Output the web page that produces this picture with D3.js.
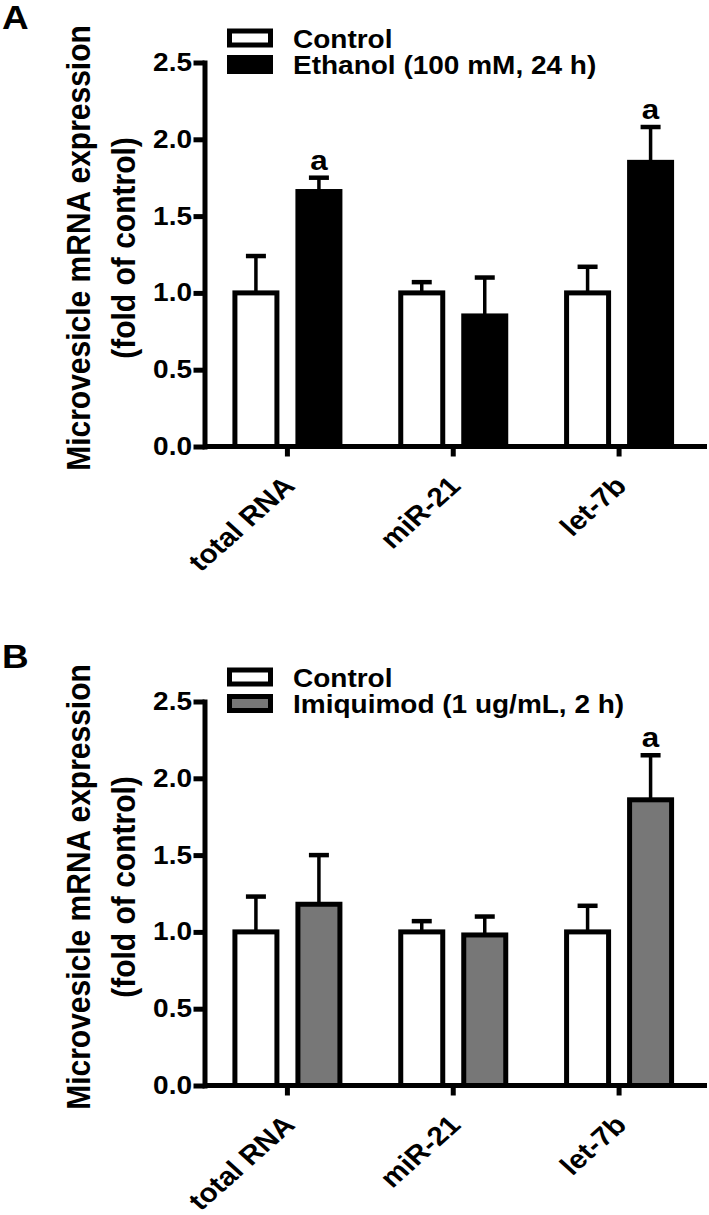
<!DOCTYPE html>
<html>
<head>
<meta charset="utf-8">
<script src="https://cdnjs.cloudflare.com/ajax/libs/d3/7.8.5/d3.min.js"></script>
<style>
  body { margin: 0; background: #fff; }
  text { font-family: "Liberation Sans", Arial, sans-serif; font-weight: bold; fill: #000; }
</style>
</head>
<body>
<script>
// data
var categories = ["total RNA", "miR-21", "let-7b"];
var yTicks = [0, 0.5, 1.0, 1.5, 2.0, 2.5];

var ctrlMeanA = [1.00, 1.00, 1.00];
var ctrlErrA  = [0.24, 0.07, 0.17];
var ethMean   = [1.66, 0.85, 1.85];
var ethErr    = [0.09, 0.25, 0.23];
var ethSig    = [true, false, true];

var ctrlMeanB = [1.00, 1.00, 1.00];
var ctrlErrB  = [0.23, 0.07, 0.17];
var imqMean   = [1.18, 0.98, 1.86];
var imqErr    = [0.32, 0.12, 0.29];
var imqSig    = [false, false, true];

var W = 709, H = 1215;
var S = 1.12; // the figure's type is a little wider than Arial

var svg = d3.select('body').append('svg')
  .attr('width', W)
  .attr('height', H);

function place(sel, x, y, rot) {
  sel.attr('transform', 'translate(' + x + ',' + y + ') scale(' + S + ',1)' + (rot ? ' rotate(' + rot + ')' : ''));
  return sel;
}

function drawPanel(p) {
  var g = svg.append('g').attr('transform', 'translate(0,' + p.top + ')');

  var y = d3.scaleLinear().domain([0, 2.5]).range([446.5, 62.5]);
  var x = d3.scaleBand().domain(categories).range([204.5, 702]);
  var xi = d3.scaleBand().domain(['ctrl', 'trt']).range([-55, 55]).paddingInner(0.254);

  var rows = [];
  categories.forEach(function (c, i) {
    rows.push({cat: c, s: 'ctrl', mean: p.ctrlMean[i], err: p.ctrlErr[i], fill: '#fff', sig: false});
    rows.push({cat: c, s: 'trt', mean: p.trtMean[i], err: p.trtErr[i], fill: p.trtFill, sig: p.trtSig[i]});
  });
  var cx = function (d) { return x(d.cat) + x.bandwidth() / 2 + xi(d.s) + xi.bandwidth() / 2; };

  // error bars (upper only)
  g.selectAll('line.err').data(rows).enter().append('line')
    .attr('class', 'err')
    .attr('x1', cx).attr('x2', cx)
    .attr('y1', function (d) { return y(d.mean); })
    .attr('y2', function (d) { return y(d.mean + d.err); })
    .attr('stroke', '#000').attr('stroke-width', 3.5);
  g.selectAll('line.cap').data(rows).enter().append('line')
    .attr('class', 'cap')
    .attr('x1', function (d) { return cx(d) - 10; })
    .attr('x2', function (d) { return cx(d) + 10; })
    .attr('y1', function (d) { return y(d.mean + d.err); })
    .attr('y2', function (d) { return y(d.mean + d.err); })
    .attr('stroke', '#000').attr('stroke-width', 4.5);

  // bars
  g.selectAll('rect.bar').data(rows).enter().append('rect')
    .attr('class', 'bar')
    .attr('x', function (d) { return cx(d) - xi.bandwidth() / 2 + 2.5; })
    .attr('width', xi.bandwidth() - 5)
    .attr('y', function (d) { return y(d.mean); })
    .attr('height', function (d) { return y(0) - y(d.mean); })
    .attr('fill', function (d) { return d.fill; })
    .attr('stroke', '#000')
    .attr('stroke-width', 5);

  // significance letters
  g.selectAll('text.sig').data(rows.filter(function (d) { return d.sig; })).enter().append('text')
    .attr('class', 'sig')
    .attr('text-anchor', 'middle')
    .style('font-size', '28px')
    .text('a')
    .each(function (d) { place(d3.select(this), cx(d), y(d.mean + d.err) - 8); });

  // y axis
  var ya = g.append('g')
    .attr('transform', 'translate(204.5,0)')
    .call(d3.axisLeft(y).tickValues(yTicks).tickFormat(d3.format('.1f')).tickSize(11).tickSizeOuter(0));
  ya.select('.domain').attr('stroke-width', 5).attr('stroke-linecap', 'square');
  ya.selectAll('.tick line').attr('stroke-width', 5);
  ya.selectAll('.tick text')
    .attr('x', -12.5 / S)
    .attr('transform', 'scale(' + S + ',1)')
    .attr('fill', '#000')
    .style('font-size', '25px')
    .style('font-family', '"Liberation Sans", Arial, sans-serif')
    .style('font-weight', 'bold');

  // x axis
  var xa = g.append('g')
    .attr('transform', 'translate(0,' + y(0) + ')')
    .call(d3.axisBottom(x).tickSize(10).tickSizeOuter(0).tickFormat(''));
  xa.select('.domain').attr('d', 'M204.5,0H707').attr('stroke-width', 5);
  xa.selectAll('.tick line').attr('stroke-width', 5);

  g.selectAll('text.xlab').data(categories).enter().append('text')
    .attr('class', 'xlab')
    .attr('text-anchor', 'end')
    .style('font-size', '26.5px')
    .text(function (d) { return d; })
    .each(function (d) { place(d3.select(this), x(d) + x.bandwidth() / 2 + 9, y(0) + 41, -45); });

  // y label
  place(g.append('text').attr('text-anchor', 'middle').style('font-size', '30px')
    .text('Microvesicle mRNA expression'), 90, 248, -90);
  place(g.append('text').attr('text-anchor', 'middle').style('font-size', '30px')
    .text('(fold of control)'), 135, 248, -90);

  // panel letter
  place(g.append('text').style('font-size', '33px').text(p.letter), 2, 29);

  // legend
  var leg = [
    {label: 'Control', fill: '#fff', cy: 38, by: 47.5},
    {label: p.trtName, fill: p.trtFill, cy: 64.5, by: 74}
  ];
  leg.forEach(function (l) {
    g.append('rect')
      .attr('x', 229.5).attr('y', l.cy - 7)
      .attr('width', 41).attr('height', 14)
      .attr('fill', l.fill).attr('stroke', '#000').attr('stroke-width', 5);
    place(g.append('text').style('font-size', '25px').text(l.label), 293, l.by);
  });
}

drawPanel({letter: 'A', top: 0, trtName: 'Ethanol (100 mM, 24 h)', trtFill: '#000',
  ctrlMean: ctrlMeanA, ctrlErr: ctrlErrA, trtMean: ethMean, trtErr: ethErr, trtSig: ethSig});
drawPanel({letter: 'B', top: 639, trtName: 'Imiquimod (1 ug/mL, 2 h)', trtFill: '#777777',
  ctrlMean: ctrlMeanB, ctrlErr: ctrlErrB, trtMean: imqMean, trtErr: imqErr, trtSig: imqSig});
</script>
</body>
</html>
